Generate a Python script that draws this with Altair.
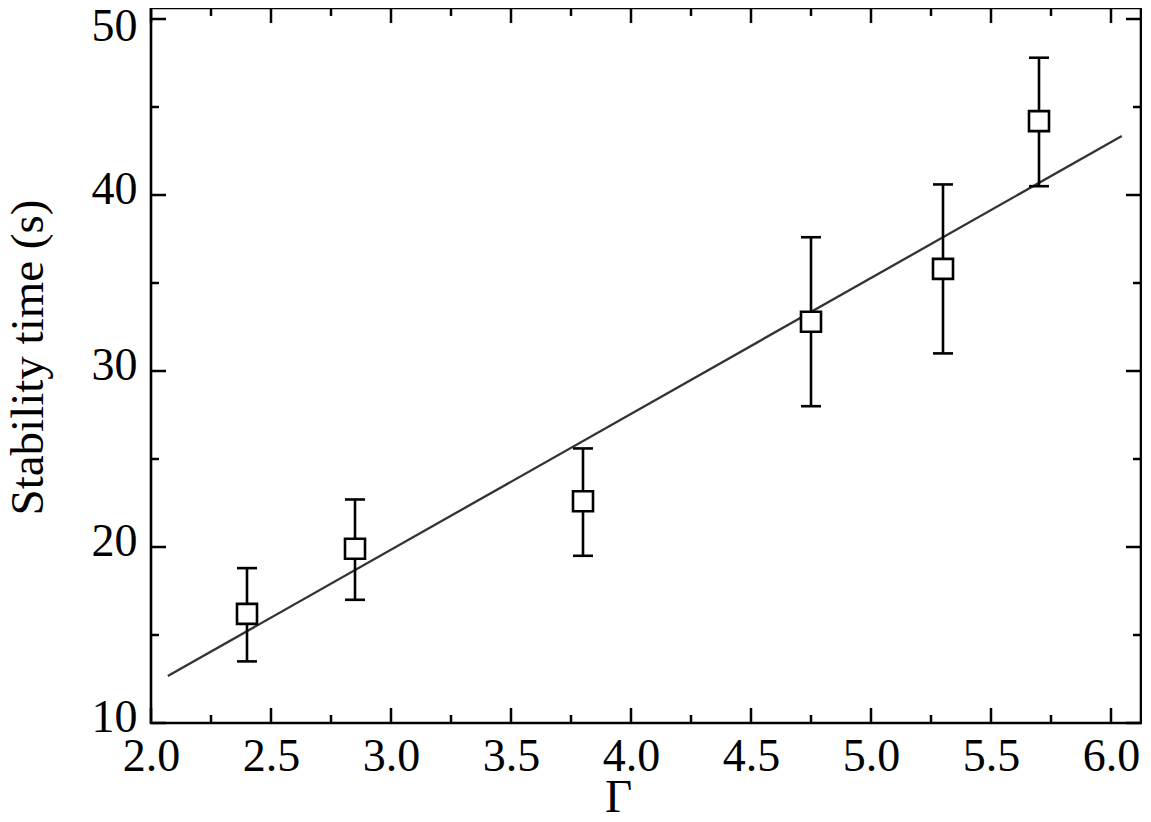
import altair as alt
import pandas as pd

# Data
gamma = [2.4, 2.85, 3.8, 4.75, 5.3, 5.7]
stab = [16.2, 19.9, 22.6, 32.8, 35.8, 44.2]
err_lo = [13.5, 17.0, 19.5, 28.0, 31.0, 40.5]
err_hi = [18.8, 22.7, 25.6, 37.6, 40.6, 47.8]

fit_x = [2.07, 6.045]
fit_y = [12.67, 43.35]

x_major = [2.0, 2.5, 3.0, 3.5, 4.0, 4.5, 5.0, 5.5, 6.0]
x_minor = [2.25, 2.75, 3.25, 3.75, 4.25, 4.75, 5.25, 5.75]
y_major = [10, 20, 30, 40, 50]
y_minor = [15, 25, 35, 45]

W, H = 990, 715
XDOM = [2.0, 2.0 + W / 240.0]
YDOM = [10.0, 10.0 + H / 17.6]
FONT = "Liberation Serif"

pts = pd.DataFrame({"g": gamma, "t": stab, "lo": err_lo, "hi": err_hi})
fit = pd.DataFrame({"g": fit_x, "t": fit_y})

xs = alt.Scale(domain=XDOM, nice=False, zero=False)
ys = alt.Scale(domain=YDOM, nice=False, zero=False)

XAXIS = alt.Axis(values=x_major, format=".1f", ticks=False, tickSize=0, domain=False,
                 grid=False, labelFont=FONT, labelFontSize=46, labelColor="black",
                 labelBaseline="alphabetic", labelPadding=47, labelFlush=False,
                 labelOverlap=False,
                 titleFont=FONT, titleFontSize=47, titleFontWeight="normal",
                 titleColor="black", titleX=467, titleY=88, titleBaseline="alphabetic")
YAXIS = alt.Axis(values=y_major, ticks=False, tickSize=0, domain=False, grid=False,
                 labelFont=FONT, labelFontSize=46, labelColor="black",
                 labelAlign="right", labelBaseline="middle", labelPadding=14,
                 labelFlush=False, labelOverlap=False,
                 labelOffset={"condition": {"test": "datum.value == 50", "value": 7},
                              "value": -6},
                 titleFont=FONT, titleFontSize=47, titleFontWeight="normal",
                 titleColor="black", titleAngle=-90, titleX=-109, titleY=349,
                 titleAlign="center", titleBaseline="alphabetic")
XT = "Γ"
YT = "Stability time (s)"

def xe(field):
    return alt.X(field, type="quantitative", scale=xs, axis=XAXIS, title=XT)

def ye(field):
    return alt.Y(field, type="quantitative", scale=ys, axis=YAXIS, title=YT)

line = alt.Chart(fit).mark_line(color="#333333", strokeWidth=2.3).encode(
    x=xe("g"), y=ye("t")
)

bars = alt.Chart(pts).mark_rule(color="black", strokeWidth=2.6).encode(
    x=xe("g"), y=ye("lo"), y2="hi"
)
cap_hi = alt.Chart(pts).mark_tick(color="black", orient="horizontal", size=20, thickness=2.6,
                                  opacity=1).encode(x=xe("g"), y=ye("hi"))
cap_lo = alt.Chart(pts).mark_tick(color="black", orient="horizontal", size=20, thickness=2.6,
                                  opacity=1).encode(x=xe("g"), y=ye("lo"))
squares = alt.Chart(pts).mark_point(shape="square", size=400, filled=False, fill="white",
                                     fillOpacity=1, stroke="black", strokeWidth=2.6,
                                     opacity=1).encode(x=xe("g"), y=ye("t"))

def xticks(vals, length):
    df = pd.DataFrame({"v": vals})
    base = alt.Chart(df).mark_rule(color="black", strokeWidth=2.5)
    b = base.encode(x=xe("v"), y=alt.value(H), y2=alt.value(H - length))
    t = base.encode(x=xe("v"), y=alt.value(0), y2=alt.value(length))
    return [b, t]

def yticks(vals, length):
    df = pd.DataFrame({"v": vals})
    base = alt.Chart(df).mark_rule(color="black", strokeWidth=2.5)
    l = base.encode(y=ye("v"), x=alt.value(0), x2=alt.value(length))
    r = base.encode(y=ye("v"), x=alt.value(W), x2=alt.value(W - length))
    return [l, r]

tick_layers = xticks(x_major, 15) + xticks(x_minor, 8) + yticks(y_major, 15) + yticks(y_minor, 8)

chart = alt.layer(line, *tick_layers, bars, cap_hi, cap_lo, squares).properties(
    width=W, height=H,
    autosize=alt.AutoSizeParams(type="none"),
    padding={"left": 143, "top": 0, "right": 1, "bottom": 91},
    background="white",
).configure_view(stroke="black", strokeWidth=2.6)

chart.save("out.html", embed_options={"renderer": "svg", "actions": False})
